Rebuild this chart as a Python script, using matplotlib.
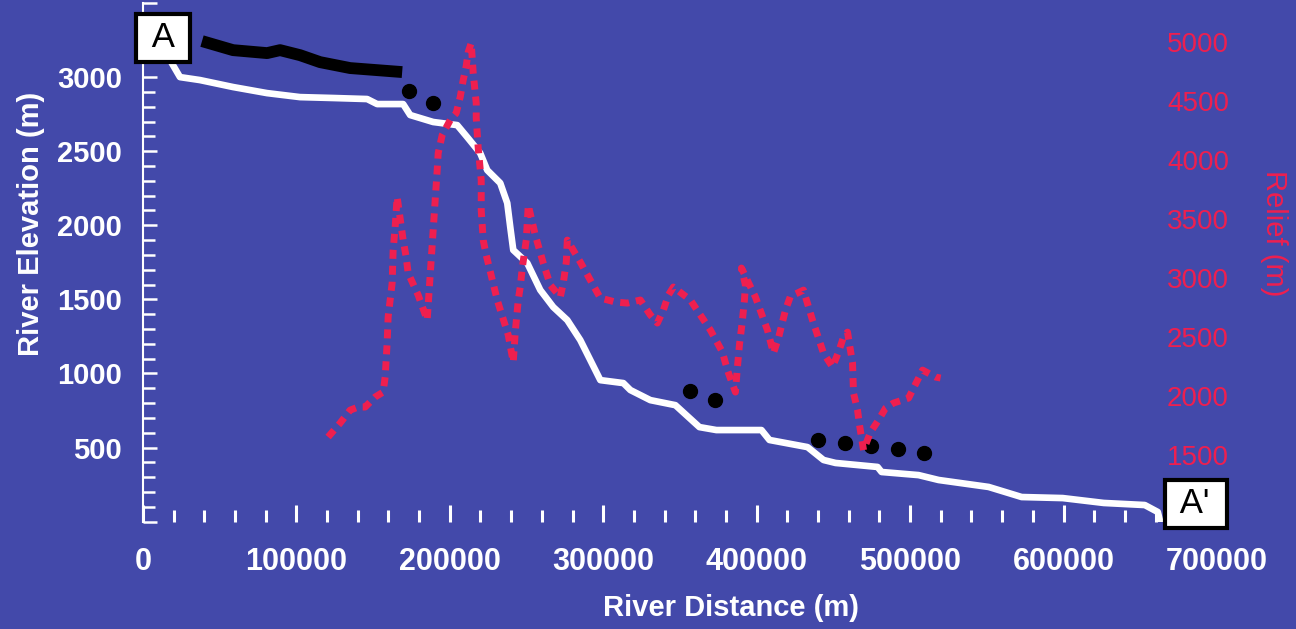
import matplotlib
matplotlib.use("Agg")
import matplotlib.pyplot as plt
from matplotlib.ticker import FixedLocator

plt.rcParams['font.family'] = ['Liberation Sans', 'DejaVu Sans']

BG = '#4349AA'
RED = '#EE1F4F'

# river long profile: distance downstream (m) and channel elevation (m)
river_dist = [19570, 24140, 37180, 58710, 80890, 102410, 123940, 146120, 152640,
              169600, 174170, 189170, 204830, 211350, 219830, 224400, 232880,
              237440, 239400, 241360, 250490, 258970, 267450, 276580, 285060,
              291590, 298110, 313110, 317680, 330720, 347030, 362690, 373780,
              403130, 408350, 433140, 443580, 451400, 478800, 481410, 505550,
              518590, 551210, 572730, 599480, 626220, 652970, 661450, 662750]
river_elev = [3081, 3000, 2980, 2933, 2892, 2865, 2859, 2852, 2818,
              2818, 2744, 2697, 2676, 2595, 2487, 2372, 2285,
              2150, 1988, 1833, 1745, 1563, 1448, 1360, 1225,
              1090, 955, 935, 888, 820, 786, 638, 618,
              618, 551, 503, 416, 396, 369, 335, 314,
              281, 234, 166, 159, 126, 112, 65, 11]

# upper reach (thick black line)
upper_dist = [38490, 58710, 80890, 89370, 102410, 115460, 135030, 168950]
upper_elev = [3243, 3182, 3162, 3182, 3148, 3101, 3061, 3034]

# black point markers
dot_dist = [173520, 189170, 356820, 373130, 439660, 457270, 474230, 491850, 508810]
dot_elev = [2906, 2825, 881, 821, 551, 530, 510, 490, 463]

# local relief along the river (right axis)
relief_dist = [120680, 128500, 135030, 140250, 144810, 151330, 156550, 157860,
               159160, 159810, 162420, 163080, 164380, 165680, 169600, 171560,
               172860, 179380, 185250, 186560, 187860, 189170, 190470, 191780,
               192430, 195040, 200260, 204170, 206780, 208740, 210690, 212000,
               213950, 215260, 217220, 217220, 218520, 220480, 220480, 221780,
               223740, 230910, 238090, 241350, 242660, 244610, 245920, 247220,
               249830, 251140, 255700, 260920, 265490, 272010, 273970, 275920,
               276580, 285060, 291580, 298100, 307890, 315710, 324190, 330720,
               335280, 339200, 342460, 345720, 356810, 369850, 377680, 380940,
               386160, 387470, 388770, 390730, 392030, 392680, 390080, 399210,
               407040, 410950, 414210, 418780, 422040, 426600, 430520, 436390,
               443560, 449440, 453350, 456610, 459220, 462480, 463130, 465740,
               467050, 469660, 474220, 479440, 484010, 489230, 499010, 502920,
               508140, 516620, 519880]
relief_val = [1653, 1771, 1881, 1907, 1907, 1992, 2034, 2161,
              2449, 2670, 2958, 3237, 3432, 3687, 3322, 3178,
              3042, 2856, 2644, 2898, 3153, 3407, 3661, 3915,
              4059, 4212, 4339, 4398, 4534, 4678, 4797, 4915,
              4992, 4737, 4483, 4356, 4102, 3831, 3576, 3322,
              3195, 2814, 2517, 2288, 2542, 2814, 2924, 3085,
              3322, 3619, 3365, 3127, 2941, 2839, 2958, 3136,
              3322, 3136, 2983, 2831, 2797, 2788, 2814, 2687,
              2619, 2729, 2856, 2924, 2814, 2559, 2373, 2220,
              2034, 2246, 2432, 2644, 2814, 2941, 3085, 2839,
              2559, 2364, 2492, 2729, 2847, 2873, 2898, 2644,
              2364, 2246, 2373, 2500, 2542, 2280, 2025, 1881,
              1754, 1542, 1695, 1797, 1898, 1941, 1983, 2085,
              2220, 2161, 2153]

x_ticks = [0, 100000, 200000, 300000, 400000, 500000, 600000, 700000]
x_minor = [20000 * i for i in range(1, 34) if i % 5]
elev_ticks = [0, 500, 1000, 1500, 2000, 2500, 3000, 3500]
elev_labels = ['', '500', '1000', '1500', '2000', '2500', '3000', '']
elev_minor = [100 * i for i in range(1, 35) if i % 5]
relief_ticks = [1500, 2000, 2500, 3000, 3500, 4000, 4500, 5000]

fig = plt.figure(figsize=(12.96, 6.29), dpi=100, facecolor=BG)
ax = fig.add_axes([0.1103, 0.1707, 0.8287, 0.8245])
ax.set_facecolor(BG)
ax.set_xlim(0, 700000)
ax.set_ylim(0, 3500)

for side in ['top', 'right', 'bottom']:
    ax.spines[side].set_visible(False)
ax.spines['left'].set_color('white')
ax.spines['left'].set_linewidth(1.5)

ax.set_xticks(x_ticks)
ax.set_xticklabels([str(v) for v in x_ticks], fontweight='bold')
ax.xaxis.set_minor_locator(FixedLocator(x_minor))
ax.set_yticks(elev_ticks)
ax.set_yticklabels(elev_labels, fontweight='bold')
ax.yaxis.set_minor_locator(FixedLocator(elev_minor))

ax.tick_params(axis='x', which='both', direction='in', colors='white', width=2.2)
ax.tick_params(axis='x', which='major', length=12, pad=18, labelsize=22)
ax.tick_params(axis='x', which='minor', length=8.5)
ax.tick_params(axis='y', which='both', direction='in', colors='white', width=1.8)
ax.tick_params(axis='y', which='major', length=10, pad=15, labelsize=21)
ax.tick_params(axis='y', which='minor', length=8.5)

ax.set_xlabel('River Distance (m)', fontsize=21, fontweight='bold', color='white')
ax.xaxis.set_label_coords(0.5475, -0.14)
ax.set_ylabel('River Elevation (m)', fontsize=21, fontweight='bold', color='white')
ax.yaxis.set_label_coords(-0.091, 0.574)

ax.plot(river_dist, river_elev, color='white', lw=4.8, zorder=3)
ax.plot(upper_dist, upper_elev, color='black', lw=8.5, solid_capstyle='butt',
        solid_joinstyle='round', zorder=3)
ax.plot(dot_dist, dot_elev, 'o', color='black', ms=10, zorder=4)

ax2 = ax.twinx()
ax2.set_ylim(936, 5331)
for side in ax2.spines:
    ax2.spines[side].set_visible(False)
ax2.set_yticks(relief_ticks)
ax2.tick_params(axis='y', length=0, pad=-36, labelsize=20, labelcolor=RED)
ax2.set_ylabel('Relief (m)', fontsize=21, color=RED, rotation=270,
               va='bottom')
ax2.yaxis.set_label_coords(1.04, 0.5565)

ax2.plot(relief_dist, relief_val, color=RED, lw=5, linestyle=(0, (1.3, 1.0)),
         dash_capstyle='butt', zorder=3)

box = dict(boxstyle='square,pad=0.22', fc='white', ec='black', lw=3)
ax2.text(13050, 3266, ' A ', transform=ax.transData, fontsize=25, color='black',
         ha='center', va='center', bbox=box, clip_on=False, zorder=6)
ax2.text(686200, 119, " A' ", transform=ax.transData, fontsize=25, color='black',
         ha='center', va='center', bbox=box, clip_on=False, zorder=6)

fig.savefig('out.png', dpi=100, facecolor=BG)
